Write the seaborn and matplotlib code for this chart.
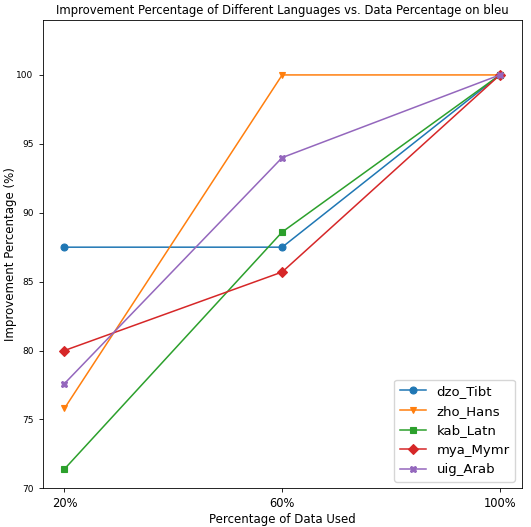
import matplotlib
matplotlib.use("Agg")
import matplotlib.pyplot as plt
import seaborn as sns
import pandas as pd

data_pct = ["20%", "60%", "100%"]
languages = ["dzo_Tibt", "zho_Hans", "kab_Latn", "mya_Mymr", "uig_Arab"]
dzo_Tibt = [87.5, 87.5, 100.0]
zho_Hans = [75.8, 100.0, 100.0]
kab_Latn = [71.4, 88.6, 100.0]
mya_Mymr = [80.0, 85.7, 100.0]
uig_Arab = [77.6, 94.0, 100.0]

series = [dzo_Tibt, zho_Hans, kab_Latn, mya_Mymr, uig_Arab]
rows = []
for lang, vals in zip(languages, series):
    for x, v in zip(data_pct, vals):
        rows.append({"pct": x, "value": v, "language": lang})
df = pd.DataFrame(rows)

fig = plt.figure(figsize=(5.31, 5.27), dpi=100)
ax = fig.add_axes([0.0804, 0.0734, 0.902, 0.889])
palette = ["#1f77b4", "#ff7f0e", "#2ca02c", "#d62728", "#9467bd"]
sns.lineplot(data=df, x="pct", y="value", hue="language", style="language",
             markers=["o", "v", "s", "D", "X"], dashes=False, palette=palette,
             markersize=5, linewidth=1.1, ax=ax, sort=False)
for ln in ax.lines:
    ln.set_markeredgecolor(ln.get_color())
    ln.set_markeredgewidth(0.8)
ax.set_ylim(70, 104)
ax.set_yticks([70, 75, 80, 85, 90, 95, 100])
ax.tick_params(axis="y", labelsize=6.5, length=3, width=0.6)
ax.tick_params(axis="x", labelsize=8.3, length=3, width=0.6)
for s in ax.spines.values():
    s.set_linewidth(0.6)
ax.set_xlabel("Percentage of Data Used", fontsize=8.5, labelpad=2)
ax.set_ylabel("Improvement Percentage (%)", fontsize=8.5)
ax.yaxis.set_label_coords(-0.054, 0.5)
ax.set_title("Improvement Percentage of Different Languages vs. Data Percentage on bleu",
             fontsize=8.4, pad=4)
handles, labels = ax.get_legend_handles_labels()
for h in handles:
    h.set_markeredgecolor(h.get_color())
    h.set_markeredgewidth(0.8)
ax.legend(handles, labels, loc="lower right", fontsize=9.5, title=None)
fig.savefig("out.png", dpi=100)
